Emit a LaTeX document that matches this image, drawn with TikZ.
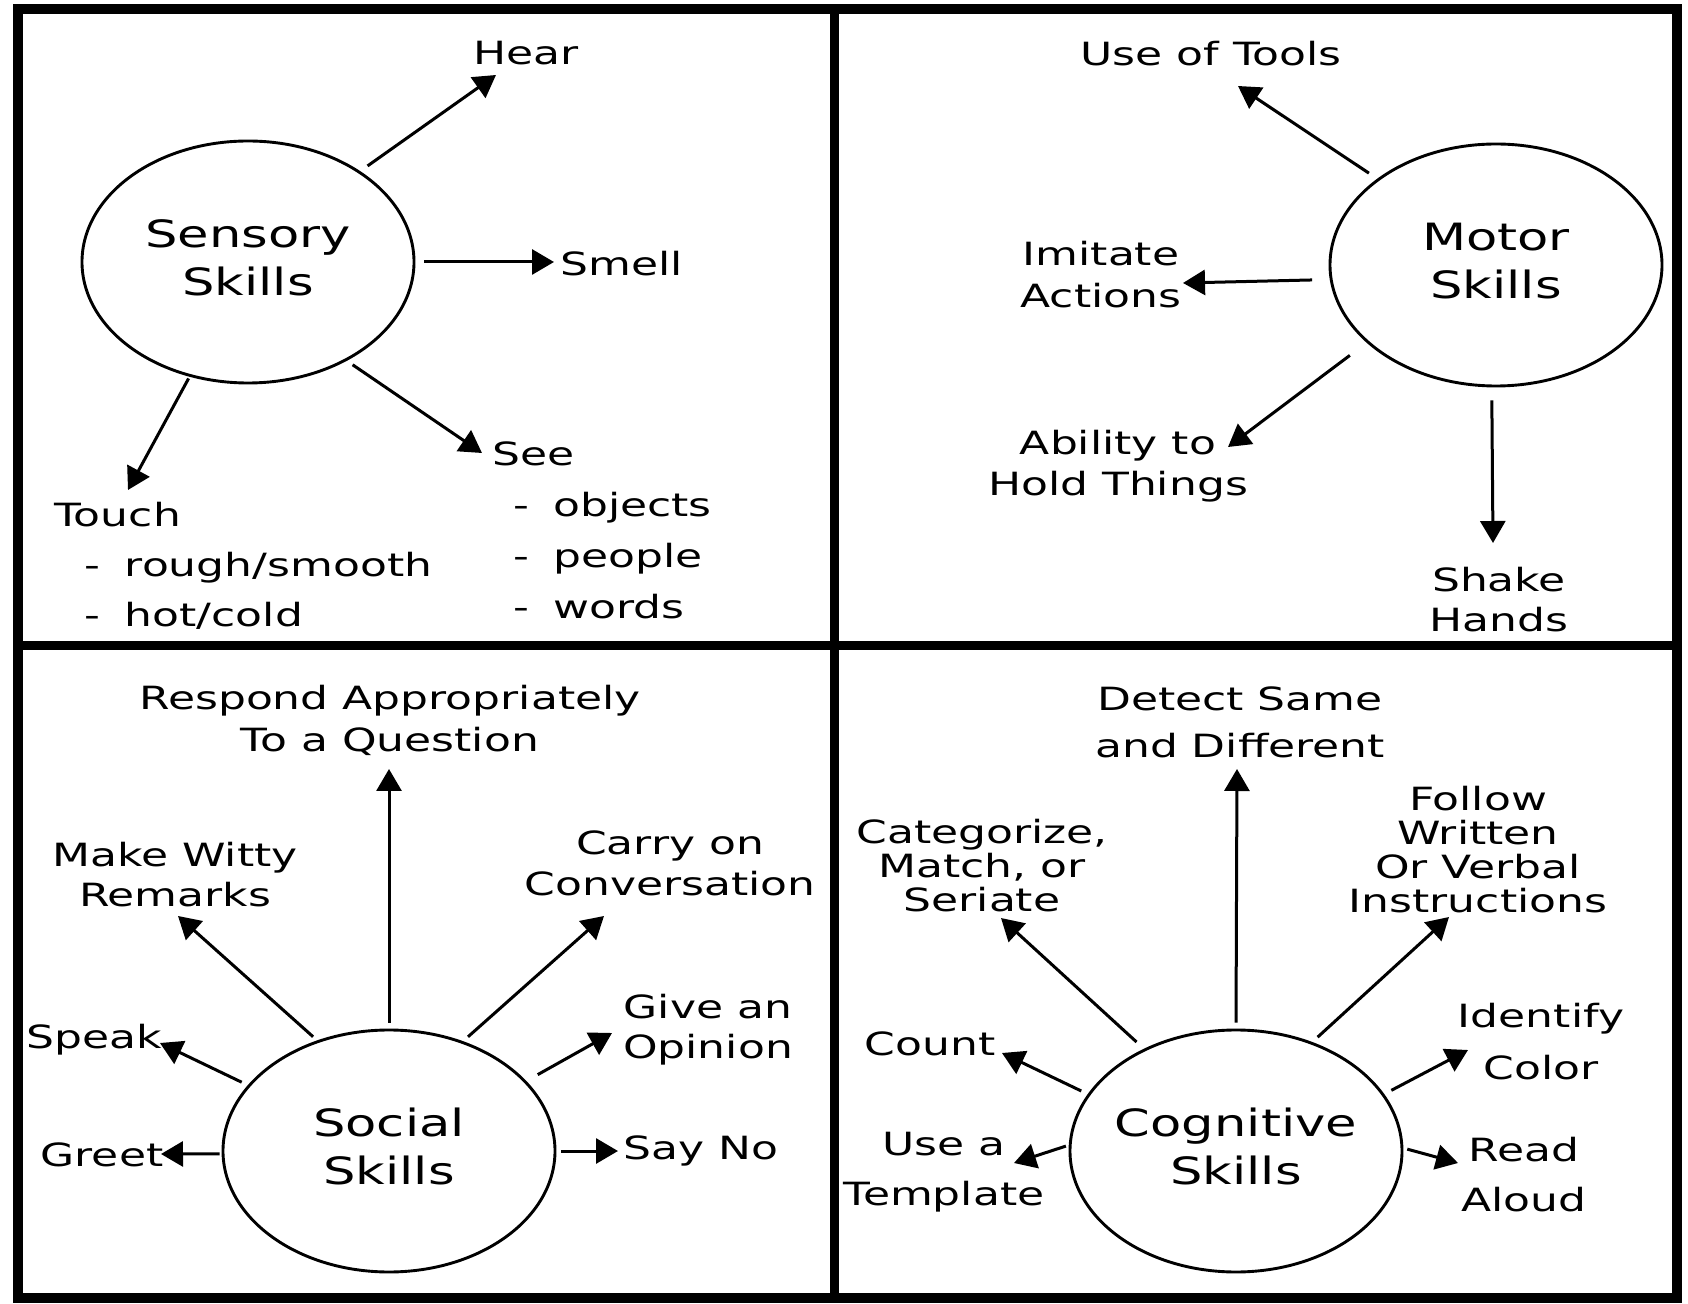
\documentclass[tikz,border=0pt]{standalone}
\usepackage{fontspec}
\setmainfont{DejaVu Sans}
\usepackage{graphicx}
\usetikzlibrary{arrows.meta,shapes.geometric}
\newcommand{\lsk}[1]{\fontsize{16}{#1}\selectfont}
\newcommand{\hubtext}[2]{\makebox[0pt]{\scalebox{1.36}[1]{\begin{tabular}{@{}c@{}}#1\\#2\end{tabular}}}}
\newcommand{\itm}[2]{\hspace*{#1}-\hspace{0.55em}#2}
\begin{document}
\begin{tikzpicture}[x=0.5pt,y=-0.5pt,
  hub/.style={ellipse, draw, line width=1.45pt, minimum width=166pt, minimum height=121pt,
              inner sep=0pt, font=\fontsize{18.8}{24}\selectfont},
  lbl/.style={xscale=1.375, align=center, inner sep=0pt, font=\lsk{20.5}},
  arr/.style={line width=1.5pt, -{Triangle[length=11pt,width=12.5pt]}},
  frameline/.style={line width=5pt},
  divline/.style={line width=4.5pt}]
\useasboundingbox (0,0) rectangle (1688,1304);
\fill[white] (0,0) rectangle (1688,1304);
\draw[frameline] (17.5,9) rectangle (1677,1297.5);
\draw[divline] (834,9) -- (834,1297.5);
\draw[divline] (17.5,646) -- (1677,646);

% hubs
\node[hub] (sens)   at (248,262)  {\hubtext{Sensory}{Skills}};
\node[hub] (motor)  at (1496,265) {\hubtext{Motor}{Skills}};
\node[hub] (social) at (389,1151) {\hubtext{Social}{Skills}};
\node[hub] (cog)    at (1236,1151){\hubtext{Cognitive}{Skills}};

% sensory labels
\node[lbl] (hear) at (526,53) {Hear};
\node[lbl] (smell) at (622,264) {Smell};
\node[lbl, anchor=west, align=left, font=\lsk{25}] (touch) at (54,566)
  {Touch\\\itm{11pt}{rough/smooth}\\\itm{11pt}{hot/cold}};
\node[lbl, anchor=west, align=left, font=\lsk{25.5}] (see) at (492,530)
  {See\\\itm{7.5pt}{objects}\\\itm{7.5pt}{people}\\\itm{7.5pt}{words}};

% motor labels
\node[lbl] (tools) at (1211,54) {Use of Tools};
\node[lbl, font=\lsk{21}] (imitate) at (1101,275) {Imitate\\Actions};
\node[lbl, font=\lsk{20.5}] (ability) at (1118,466) {Ability to\\Hold Things};
\node[lbl, font=\lsk{20}] (shake) at (1499,600) {Shake\\Hands};

% social labels
\node[lbl, font=\lsk{21}] (respond) at (390,720) {Respond Appropriately\\To a Question};
\node[lbl, font=\lsk{20}] (witty) at (175,875) {Make Witty\\Remarks};
\node[lbl, font=\lsk{20.5}] (carry) at (670,863) {Carry on\\Conversation};
\node[lbl] (speak) at (94,1040) {Speak};
\node[lbl, font=\lsk{20}] (opinion) at (708,1030) {Give an\\Opinion};
\node[lbl] (greet) at (102,1155) {Greet};
\node[lbl] (sayno) at (701,1151) {Say No};

% cognitive labels
\node[lbl, font=\lsk{23.5}] (detect) at (1240,722) {Detect Same\\and Different};
\node[lbl, font=\lsk{17}] (categ) at (982,866) {Categorize,\\Match, or\\Seriate};
\node[lbl, font=\lsk{17}] (follow) at (1478,850) {Follow\\Written\\Or Verbal\\Instructions};
\node[lbl] (count) at (930,1044) {Count};
\node[lbl, font=\lsk{26}] (identify) at (1541,1042) {Identify\\Color};
\node[lbl, font=\lsk{25}] (usea) at (944,1172) {Use a\\Template};
\node[lbl, font=\lsk{25}] (read) at (1524,1175) {Read\\Aloud};

% arrow tips
\coordinate (hearT) at (496,75);
\coordinate (smellT) at (554,262);
\coordinate (touchT) at (128,490);
\coordinate (seeT) at (482,453);
\coordinate (toolsT) at (1238,86);
\coordinate (imitateT) at (1183,283);
\coordinate (abilityT) at (1228,447);
\coordinate (shakeT) at (1493,543);
\coordinate (respondT) at (389,769);
\coordinate (wittyT) at (178,916);
\coordinate (carryT) at (604,916);
\coordinate (speakT) at (160,1043);
\coordinate (opinionT) at (612,1033);
\coordinate (greetT) at (161,1154);
\coordinate (saynoT) at (618,1151);
\coordinate (detectT) at (1237,769);
\coordinate (categT) at (1001,918);
\coordinate (followT) at (1449,917);
\coordinate (countT) at (1002,1053);
\coordinate (identifyT) at (1468,1050);
\coordinate (useaT) at (1014,1163);
\coordinate (readT) at (1458,1163);

% arrows
\draw[arr, shorten <=4.5pt] (sens.39.1) -- (hearT);
\draw[arr, shorten <=4.5pt] (sens.0) -- (smellT);
\draw[arr, shorten <=1pt] (sens.243.8) -- (touchT);
\draw[arr, shorten <=3.5pt] (sens.315.6) -- (seeT);

\draw[arr, shorten <=5pt] (motor.144.7) -- (toolsT);
\draw[arr, shorten <=8.8pt] (motor.185.6) -- (imitateT);
\draw[arr, shorten <=10.5pt] (motor.211.1) -- (abilityT);
\draw[arr, shorten <=6.5pt] (motor.268.7) -- (shakeT);

\draw[arr, shorten <=3pt] (social.90) -- (respondT);
\draw[arr, shorten <=2.75pt] (social.123) -- (wittyT);
\draw[arr, shorten <=3.3pt] (social.56) -- (carryT);
\draw[arr, shorten <=3.4pt] (social.155.5) -- (speakT);
\draw[arr, shorten <=6.5pt] (social.27.3) -- (opinionT);
\draw[arr, shorten <=1pt] (social.181) -- (greetT);
\draw[arr, shorten <=2.5pt] (social.0) -- (saynoT);

\draw[arr, shorten <=3pt] (cog.90) -- (detectT);
\draw[arr, shorten <=5pt] (cog.132.5) -- (categT);
\draw[arr, shorten <=3.6pt] (cog.55.3) -- (followT);
\draw[arr, shorten <=3.6pt] (cog.159.8) -- (countT);
\draw[arr, shorten <=4pt] (cog.21.3) -- (identifyT);
\draw[arr, shorten <=1.5pt] (cog.178.6) -- (useaT);
\draw[arr, shorten <=2pt] (cog.1.3) -- (readT);
\end{tikzpicture}
\end{document}
